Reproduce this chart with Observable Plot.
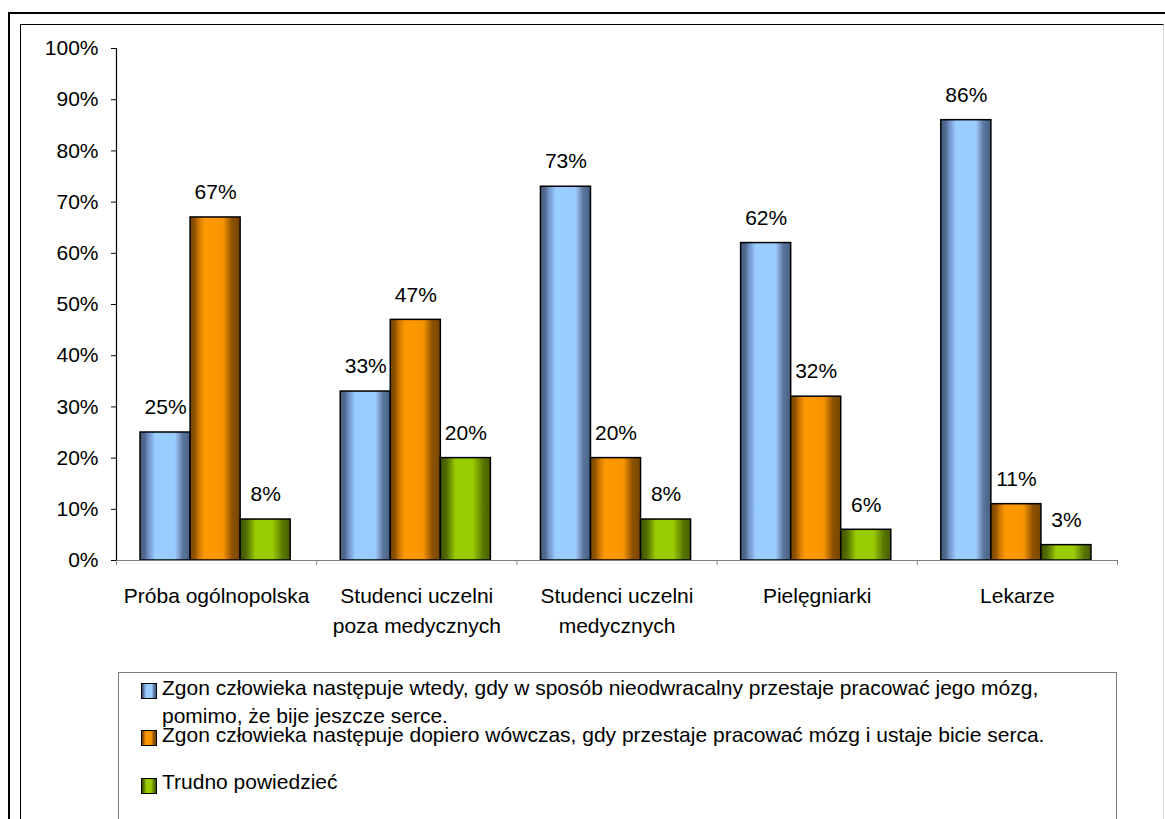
<!DOCTYPE html>
<html>
<head>
<meta charset="utf-8">
<script src="https://cdn.jsdelivr.net/npm/d3@7"></script>
<script src="https://cdn.jsdelivr.net/npm/@observablehq/plot@0.6"></script>
<style>
  html, body { margin: 0; padding: 0; background: #fff; }
  body { width: 1165px; height: 819px; overflow: hidden; position: relative; font-family: "Liberation Sans", Arial, sans-serif; }
  #chart { position: absolute; left: 0; top: 0; }
  .bord { position: absolute; pointer-events: none; box-sizing: border-box; }
  #legend { position: absolute; left: 118px; top: 672px; width: 999px; height: 200px; border: 1.5px solid #7a7a7a; box-sizing: border-box; background: #fff; }
  .lt { position: absolute; font-size: 21px; line-height: 21px; white-space: nowrap; color: #000; }
  .sw { position: absolute; width: 14px; height: 14px; border: 1px solid #000; }
</style>
</head>
<body>
<div id="chart"></div>
<div id="legend"></div>
<div class="bord" style="left:8px;top:12px;width:1180px;height:900px;border:2.5px solid #000;"></div>
<div class="bord" style="left:20px;top:24px;width:1144px;height:900px;border-left:1.5px solid #000;border-top:1.5px solid #000;border-right:1px solid #d8d8d8;"></div>
<script>
const categories = ["Próba ogólnopolska", "Studenci uczelni\npoza medycznych", "Studenci uczelni\nmedycznych", "Pielęgniarki", "Lekarze"];
const seriesNames = [
  "Zgon człowieka następuje wtedy, gdy w sposób nieodwracalny przestaje pracować jego mózg, pomimo, że bije jeszcze serce.",
  "Zgon człowieka następuje dopiero wówczas, gdy przestaje pracować mózg i ustaje bicie serca.",
  "Trudno powiedzieć"
];
const brainDeath = [25, 33, 73, 62, 86];
const heartStop = [67, 47, 20, 32, 11];
const hardToSay = [8, 20, 8, 6, 3];
const yTicks = [0, 10, 20, 30, 40, 50, 60, 70, 80, 90, 100];

const seriesValues = [brainDeath, heartStop, hardToSay];
const fills = ["url(#gBlue)", "url(#gOrange)", "url(#gGreen)"];
const rows = [];
seriesValues.forEach((vals, si) => vals.forEach((v, ci) => rows.push({ci, si, value: v})));

const pad = 0.12, bw = 0.25;
const font = "Liberation Sans, Arial, sans-serif";

const plot = Plot.plot({
  width: 1165,
  height: 660,
  marginLeft: 116,
  marginRight: 48,
  marginTop: 48,
  marginBottom: 100,
  style: {background: "transparent", fontFamily: font, fontSize: "21px", color: "#000", overflow: "visible"},
  x: {domain: [0, categories.length], axis: null},
  y: {domain: [0, 100], axis: null},
  marks: [
    Plot.axisY({ticks: yTicks, tickSize: 5, tickPadding: 13, tickFormat: d => d + "%", label: null, fontSize: 21, stroke: "#000", strokeOpacity: 1}),
    Plot.axisX({ticks: d3.range(categories.length + 1), tickSize: 5, tickFormat: () => "", label: null, stroke: "#808080", strokeOpacity: 1}),
    Plot.rectY(rows, {
      x1: d => d.ci + pad + d.si * bw,
      x2: d => d.ci + pad + (d.si + 1) * bw,
      y1: 0,
      y2: "value",
      fill: d => fills[d.si],
      stroke: "#000",
      strokeWidth: 1.5
    }),
    Plot.ruleY([0], {stroke: "#808080", strokeWidth: 1.2}),
    Plot.ruleX([0], {stroke: "#000", strokeWidth: 1.2}),
    Plot.text(rows, {
      x: d => d.ci + pad + (d.si + 0.5) * bw,
      y: "value",
      text: d => d.value + "%",
      dy: -25,
      lineAnchor: "middle",
      fontSize: 21,
      fill: "#000"
    }),
    Plot.text(categories, {
      x: (d, i) => i + 0.5,
      y: () => 0,
      text: d => d,
      dy: 22,
      lineAnchor: "top",
      lineHeight: 1.4,
      fontSize: 21,
      fill: "#000"
    })
  ]
});

// gradients
const svg = d3.select(plot);
const defs = svg.insert("defs", ":first-child");
const grads = {
  gBlue: [[0, "#465d7e"], [0.1, "#53698f"], [0.15, "#6a8cbf"], [0.23, "#82abe0"], [0.3, "#99ccff"], [0.7, "#99ccff"], [0.78, "#7f9fcc"], [0.85, "#5b779e"], [1, "#485f82"]],
  gOrange: [[0, "#774400"], [0.1, "#935500"], [0.16, "#c47100"], [0.23, "#e98800"], [0.3, "#ff9900"], [0.66, "#f69400"], [0.75, "#c47300"], [0.84, "#8c5200"], [1, "#784500"]],
  gGreen: [[0, "#3e5400"], [0.12, "#526d00"], [0.2, "#6f9200"], [0.3, "#99cc00"], [0.65, "#99cc00"], [0.75, "#7ca300"], [0.86, "#587500"], [1, "#486000"]]
};
for (const [id, stops] of Object.entries(grads)) {
  const g = defs.append("linearGradient").attr("id", id).attr("x1", "0").attr("x2", "1").attr("y1", "0").attr("y2", "0");
  for (const [o, c] of stops) g.append("stop").attr("offset", o).attr("stop-color", c);
}
document.getElementById("chart").appendChild(plot);

// legend (HTML)
const legend = document.getElementById("legend");
const css = id => "linear-gradient(to right, " + grads[id].map(([o, c]) => c + " " + (o * 100) + "%").join(", ") + ")";
const L = 118, T = 672;
const swatches = [{id: "gBlue", top: 682}, {id: "gOrange", top: 729}, {id: "gGreen", top: 777}];
swatches.forEach(s => {
  const d = document.createElement("div");
  d.className = "sw";
  d.style.left = (140 - L) + "px";
  d.style.top = (s.top - T) + "px";
  d.style.background = css(s.id);
  legend.appendChild(d);
});
const lines = [
  {text: "Zgon człowieka następuje wtedy, gdy w sposób nieodwracalny przestaje pracować jego mózg,", base: 693.5},
  {text: "pomimo, że bije jeszcze serce.", base: 721.5},
  {text: seriesNames[1], base: 741},
  {text: seriesNames[2], base: 788}
];
lines.forEach(l => {
  const d = document.createElement("div");
  d.className = "lt";
  d.textContent = l.text;
  d.style.left = (161 - L) + "px";
  d.style.top = (l.base - 17.8 - T) + "px";
  legend.appendChild(d);
});
</script>
</body>
</html>
